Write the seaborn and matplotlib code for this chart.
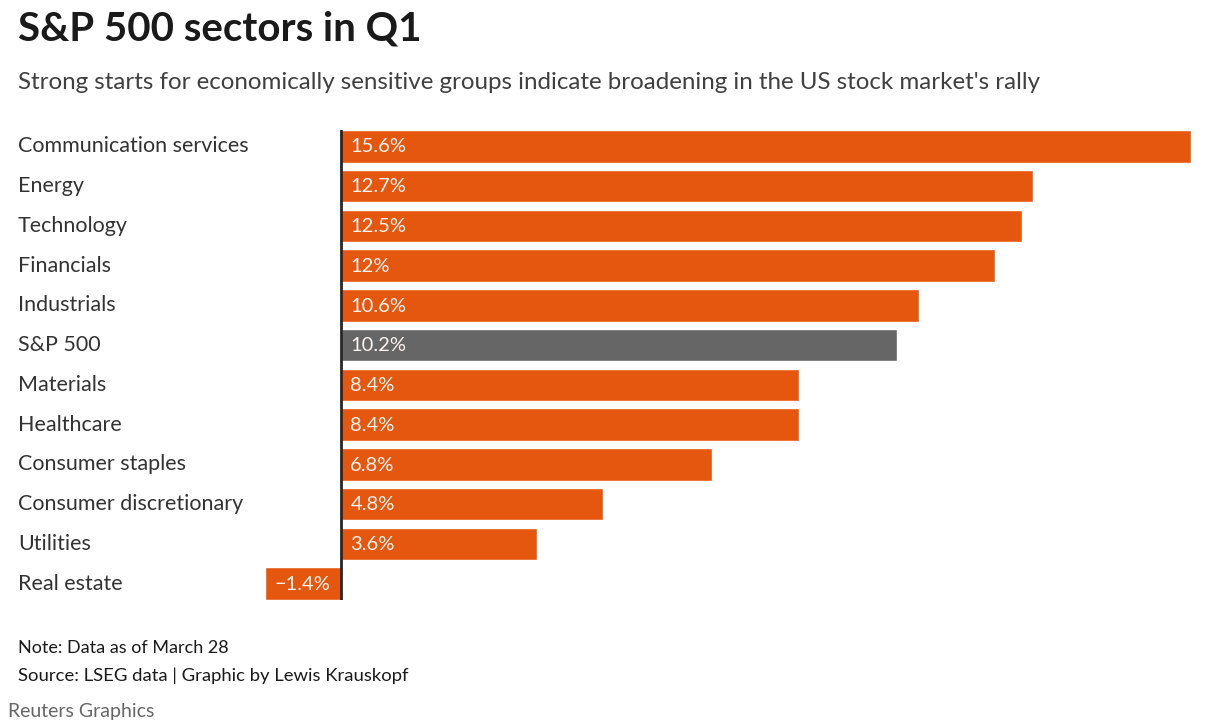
import matplotlib
matplotlib.use("Agg")
import matplotlib.pyplot as plt
from matplotlib import transforms
import seaborn as sns
import pandas as pd

sectors = ["Communication services", "Energy", "Technology", "Financials",
           "Industrials", "S&P 500", "Materials", "Healthcare",
           "Consumer staples", "Consumer discretionary", "Utilities",
           "Real estate"]
returns = [15.6, 12.7, 12.5, 12.0, 10.6, 10.2, 8.4, 8.4, 6.8, 4.8, 3.6, -1.4]
value_labels = ["15.6%", "12.7%", "12.5%", "12%", "10.6%", "10.2%", "8.4%",
                "8.4%", "6.8%", "4.8%", "3.6%", "\u22121.4%"]

ORANGE = "#E5560F"
GREY = "#666666"
colors = [GREY if s == "S&P 500" else ORANGE for s in sectors]

sns.set_theme(style="white")
plt.rcParams["font.family"] = ["Lato", "DejaVu Sans"]

df = pd.DataFrame({"sector": sectors, "ret": returns})

fig = plt.figure(figsize=(12.06, 7.28), dpi=100)
ax = fig.add_axes([265 / 1206, 1 - 600 / 728, 926 / 1206, 470 / 728])

sns.barplot(data=df, x="ret", y="sector", hue="sector", palette=colors,
            legend=False, width=0.82, ax=ax, saturation=1)

ax.set_xlim(-1.4, 15.6)
ax.set_ylim(len(sectors) - 1 + 0.41, -0.41)
ax.axvline(0, color="#262626", lw=2)

# value labels inside the bars, from the bar's left end
for i, (v, lab) in enumerate(zip(returns, value_labels)):
    left = min(v, 0)
    ax.annotate(lab, xy=(left, i), xytext=(6.5, -0.5), textcoords="offset points",
                va="center", ha="left", color="#fdf3ee", fontsize=14.5)

# category labels on the far left
trans = transforms.blended_transform_factory(fig.transFigure, ax.transData)
for i, s in enumerate(sectors):
    ax.text(18 / 1206, i, s, transform=trans, va="center", ha="left",
            fontsize=15.5, color="#333333")

ax.set_xticks([])
ax.set_yticks([])
ax.set_xlabel("")
ax.set_ylabel("")
sns.despine(ax=ax, left=True, bottom=True)

fig.text(18 / 1206, 1 - 40 / 728, "S&P 500 sectors in Q1", fontsize=29,
         fontweight="bold", color="#1a1a1a", ha="left", va="baseline")
fig.text(18 / 1206, 1 - 89 / 728,
         "Strong starts for economically sensitive groups indicate broadening in the US stock market's rally",
         fontsize=17.4, color="#404040", ha="left", va="baseline")
fig.text(18 / 1206, 1 - 653 / 728, "Note: Data as of March 28", fontsize=13,
         color="#1a1a1a", ha="left", va="baseline")
fig.text(18 / 1206, 1 - 681 / 728, "Source: LSEG data | Graphic by Lewis Krauskopf",
         fontsize=13.3, color="#1a1a1a", ha="left", va="baseline")
fig.text(8 / 1206, 1 - 717 / 728, "Reuters Graphics", fontsize=14,
         color="#666666", ha="left", va="baseline")

fig.savefig("out.png", dpi=100, facecolor="white")
